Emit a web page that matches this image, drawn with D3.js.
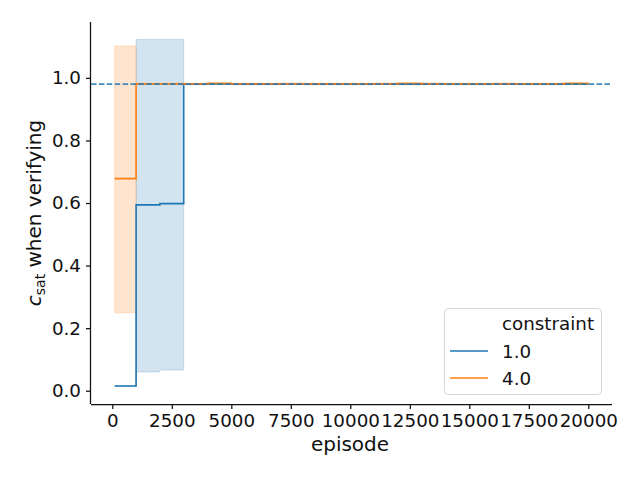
<!DOCTYPE html>
<html>
<head>
<meta charset="utf-8">
<script src="https://cdn.jsdelivr.net/npm/d3@7"></script>
<style>
  body { margin: 0; background: #fff; }
  svg { display: block; font-family: "DejaVu Sans", sans-serif; }
</style>
</head>
<body>
<svg id="chart" width="640" height="480"></svg>
<script>
const episodes = [100, 1000, 2000, 3000, 4000, 5000, 6000, 7000, 8000, 9000, 10000,
                  11000, 12000, 13000, 14000, 15000, 16000, 17000, 18000, 19000, 20000];
const blueMean = [0.015, 0.594, 0.598, 0.980, 0.981, 0.980, 0.980, 0.981, 0.980, 0.980, 0.980,
                  0.981, 0.980, 0.981, 0.980, 0.980, 0.981, 0.980, 0.980, 0.981, 0.980];
const blueLow  = [0.015, 0.060, 0.066, 0.978, 0.979, 0.978, 0.978, 0.979, 0.978, 0.978, 0.978,
                  0.979, 0.978, 0.979, 0.978, 0.978, 0.979, 0.978, 0.978, 0.979, 0.978];
const blueHigh = [0.015, 1.123, 1.123, 0.982, 0.983, 0.982, 0.982, 0.983, 0.982, 0.982, 0.982,
                  0.983, 0.982, 0.983, 0.982, 0.982, 0.983, 0.982, 0.982, 0.983, 0.982];
const orangeMean = [0.678, 0.981, 0.981, 0.981, 0.982, 0.981, 0.981, 0.981, 0.981, 0.981, 0.981,
                    0.981, 0.982, 0.981, 0.981, 0.981, 0.981, 0.981, 0.981, 0.982, 0.981];
const orangeLow  = [0.249, 0.979, 0.979, 0.979, 0.979, 0.979, 0.979, 0.979, 0.979, 0.979, 0.979,
                    0.979, 0.979, 0.979, 0.979, 0.979, 0.979, 0.979, 0.979, 0.979, 0.979];
const orangeHigh = [1.102, 0.983, 0.983, 0.983, 0.985, 0.983, 0.983, 0.983, 0.983, 0.983, 0.983,
                    0.983, 0.985, 0.983, 0.983, 0.983, 0.983, 0.983, 0.983, 0.985, 0.983];
const referenceLevel = 0.98;
const xTicks = [0, 2500, 5000, 7500, 10000, 12500, 15000, 17500, 20000];
const yTicks = [0.0, 0.2, 0.4, 0.6, 0.8, 1.0];
const seriesNames = ["1.0", "4.0"];
const colors = ["#1f77b4", "#ff7f0e"];

const svg = d3.select("#chart");
const pL = 91, pR = 612, pT = 22, pB = 404;
const ink = "#111";

const x = d3.scaleLinear().domain([-895, 20995]).range([pL, pR]);
const y = d3.scaleLinear().domain([-0.0425, 1.1787]).range([pB, pT]);

const series = [
  { name: seriesNames[0], color: colors[0], mean: blueMean, lo: blueLow, hi: blueHigh },
  { name: seriesNames[1], color: colors[1], mean: orangeMean, lo: orangeLow, hi: orangeHigh }
];

const area = d3.area().curve(d3.curveStepAfter)
  .x(d => x(d.e)).y0(d => y(d.lo)).y1(d => y(d.hi));
const line = d3.line().curve(d3.curveStepAfter)
  .x(d => x(d.e)).y(d => y(d.m));

// bands
series.forEach(s => {
  const pts = episodes.map((e, i) => ({ e, lo: s.lo[i], hi: s.hi[i] }));
  svg.append("path").attr("d", area(pts))
    .attr("fill", s.color).attr("fill-opacity", 0.2)
    .attr("stroke", s.color).attr("stroke-opacity", 0.2).attr("stroke-width", 1);
});
// lines
series.forEach(s => {
  const pts = episodes.map((e, i) => ({ e, m: s.mean[i] }));
  svg.append("path").attr("d", line(pts))
    .attr("fill", "none").attr("stroke", s.color).attr("stroke-width", 1.6);
});
// reference dashed line
svg.append("line")
  .attr("x1", pL).attr("x2", pR)
  .attr("y1", y(referenceLevel)).attr("y2", y(referenceLevel))
  .attr("stroke", colors[0]).attr("stroke-opacity", 0.85)
  .attr("stroke-width", 1.6).attr("stroke-dasharray", "5.5,2.4");

// axes
const xAxis = svg.append("g").attr("transform", `translate(0,${pB})`)
  .call(d3.axisBottom(x).tickValues(xTicks).tickFormat(d3.format("d")).tickSize(5).tickPadding(5).tickSizeOuter(0));
const yAxis = svg.append("g").attr("transform", `translate(${pL},0)`)
  .call(d3.axisLeft(y).tickValues(yTicks).tickFormat(d3.format(".1f")).tickSize(5).tickPadding(5).tickSizeOuter(0));
[xAxis, yAxis].forEach(g => {
  g.select(".domain").attr("stroke", ink).attr("stroke-width", 1.25);
  g.selectAll(".tick line").attr("stroke", ink).attr("stroke-width", 1.25);
  g.selectAll(".tick text").attr("fill", ink)
    .style("font-family", "DejaVu Sans").style("font-size", "18.3px");
});
xAxis.select(".domain").attr("d", `M${pL},0.5H${pR}`);
yAxis.select(".domain").attr("d", `M-0.5,${pB}V${pT}`);

// axis labels
svg.append("text").attr("x", 350).attr("y", 451)
  .attr("text-anchor", "middle").attr("fill", ink)
  .style("font-size", "20px").text("episode");

const yl = svg.append("text")
  .attr("transform", `translate(41,213) rotate(-90)`)
  .attr("text-anchor", "middle").attr("fill", ink)
  .style("font-size", "20px");
yl.append("tspan").style("font-style", "italic").text("c");
yl.append("tspan").style("font-size", "14px").attr("dy", 4).text("sat");
yl.append("tspan").attr("dy", -4).text(" when verifying");

// legend
const lg = svg.append("g");
lg.append("rect").attr("x", 444.5).attr("y", 308.5).attr("width", 157).attr("height", 86)
  .attr("rx", 4).attr("fill", "#fff").attr("fill-opacity", 0.8)
  .attr("stroke", "#d6d6d6").attr("stroke-width", 1);
lg.append("text").attr("x", 502).attr("y", 329.5).attr("fill", ink)
  .style("font-size", "18.3px").text("constraint");
series.forEach((s, i) => {
  const cy = 351 + i * 27;
  lg.append("line").attr("x1", 450).attr("x2", 488).attr("y1", cy).attr("y2", cy)
    .attr("stroke", s.color).attr("stroke-width", 1.6);
  lg.append("text").attr("x", 502).attr("y", cy + 6.5).attr("fill", ink)
    .style("font-size", "18.3px").text(s.name);
});
</script>
</body>
</html>
